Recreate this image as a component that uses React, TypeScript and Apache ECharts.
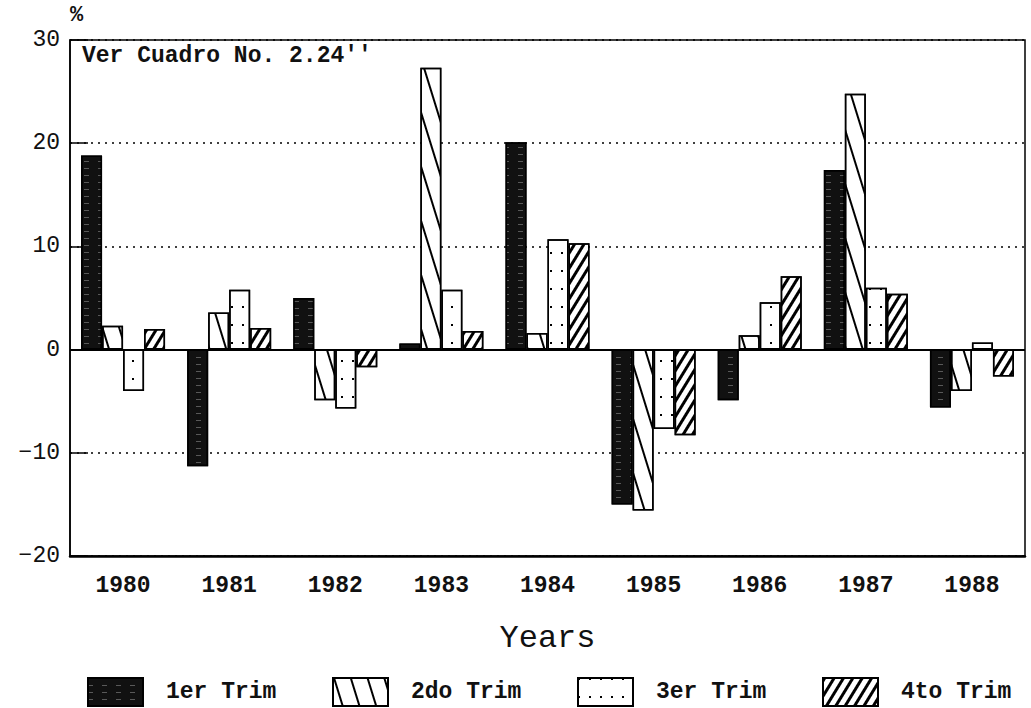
import React, { useEffect, useRef } from "react";
import * as echarts from "echarts";

const years = ["1980", "1981", "1982", "1983", "1984", "1985", "1986", "1987", "1988"];
const seriesNames = ["1er Trim", "2do Trim", "3er Trim", "4to Trim"];
const trim1 = [18.8, -11.3, 5.0, 0.6, 20.1, -15.0, -4.9, 17.4, -5.6];
const trim2 = [2.3, 3.6, -4.9, 27.3, 1.6, -15.6, 1.4, 24.8, -4.0];
const trim3 = [-4.0, 5.8, -5.7, 5.8, 10.7, -7.7, 4.6, 6.0, 0.7];
const trim4 = [2.0, 2.1, -1.7, 1.8, 10.3, -8.3, 7.1, 5.4, -2.6];
const yTicks = [-20, -10, 0, 10, 20, 30];

const MONO = "'Liberation Mono', 'DejaVu Sans Mono', monospace";

export default function App() {
  const ref = useRef<HTMLDivElement>(null);
  useEffect(() => {
    if (!ref.current) return;
    document.body.style.margin = "0";
    const chart = echarts.init(ref.current, null, { renderer: "svg" });
    const decals: any[] = [
      {
        symbol: "rect",
        color: "rgba(255,255,255,0.3)",
        dashArrayX: [[5, 9]],
        dashArrayY: [1, 6],
        symbolSize: 1,
      },
      {
        symbol: "rect",
        color: "#000",
        dashArrayX: [1.5, 14],
        dashArrayY: [10, 0],
        symbolSize: 1,
        rotation: -0.3,
      },
      {
        symbol: "rect",
        color: "#000",
        dashArrayX: [2, 9],
        dashArrayY: [2, 16],
        symbolSize: 1,
      },
      {
        symbol: "rect",
        color: "#000",
        dashArrayX: [3, 5],
        dashArrayY: [10, 0],
        symbolSize: 1,
        rotation: 0.55,
      },
    ];
    const fills = ["#111", "#fff", "#fff", "#fff"];
    const datas = [trim1, trim2, trim3, trim4];
    const series: any[] = seriesNames.map((name, i) => ({
      name,
      type: "bar",
      data: datas[i],
      barWidth: 21,
      barGap: "0%",
      itemStyle: {
        color: fills[i],
        borderColor: "#000",
        borderWidth: 1.5,
        decal: decals[i],
      },
      ...(i === 0
        ? {
            markLine: {
              silent: true,
              symbol: "none",
              label: { show: false },
              lineStyle: { color: "#000", type: "solid", width: 2 },
              data: [{ yAxis: 0 }],
            },
          }
        : {}),
    }));
    const legendLefts = [82, 327, 572, 817];
    const option: any = {
      animation: false,
      aria: { enabled: false },
      grid: {
        left: 70,
        right: 6,
        top: 40,
        bottom: 152,
        show: true,
        borderColor: "#000",
        borderWidth: 1.5,
        backgroundColor: "transparent",
      },
      legend: seriesNames.map((name, i) => ({
        data: [name],
        left: legendLefts[i],
        top: 672,
        itemWidth: 55,
        itemHeight: 28,
        icon: "rect",
        textStyle: {
          fontFamily: MONO,
          fontSize: 23,
          fontWeight: "bold",
          color: "#111",
          padding: [0, 0, 0, 18],
        },
        selectedMode: false,
      })),
      xAxis: {
        type: "category",
        data: years,
        name: "Years",
        nameLocation: "middle",
        nameGap: 66,
        nameTextStyle: { fontFamily: MONO, fontSize: 32, color: "#111" },
        axisLine: { onZero: false, lineStyle: { color: "#000", width: 2.5 } },
        axisTick: { show: false },
        axisLabel: {
          fontFamily: MONO,
          fontSize: 23,
          fontWeight: "bold",
          color: "#111",
          margin: 18,
        },
        splitLine: { show: false },
      },
      yAxis: {
        type: "value",
        min: -20,
        max: 30,
        interval: 10,
        axisLine: { show: true, lineStyle: { color: "#000", width: 1.5 } },
        axisTick: { show: true, inside: true, length: 18, lineStyle: { color: "#000", width: 1.5 } },
        axisLabel: {
          fontFamily: MONO,
          fontSize: 23,
          color: "#111",
          margin: 10,
          formatter: (v: number) => (yTicks.includes(v) ? String(v).replace("-", "\u2212") : ""),
        },
        splitLine: { show: true, lineStyle: { color: "#000", type: [2, 5], width: 1.5 } },
      },
      graphic: [
        {
          type: "text",
          left: 70,
          top: 4,
          style: { text: "%", fontFamily: MONO, fontSize: 22, fontWeight: "bold", fill: "#111" },
        },
        {
          type: "text",
          left: 82,
          top: 44,
          style: { text: "Ver Cuadro No. 2.24''", fontFamily: MONO, fontSize: 23, fontWeight: "bold", fill: "#111" },
        },
      ],
      series,
    };
    chart.setOption(option);
    return () => chart.dispose();
  }, []);
  return <div ref={ref} style={{ width: 1031, height: 708 }} />;
}
